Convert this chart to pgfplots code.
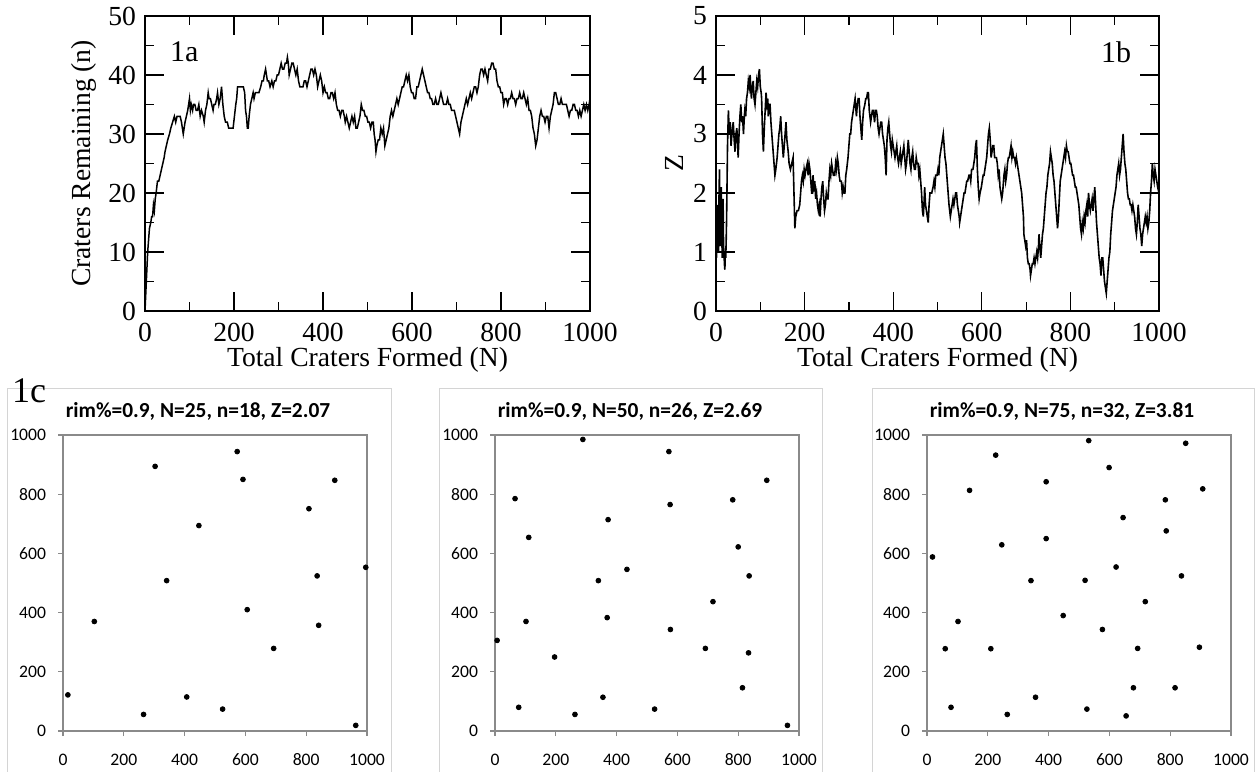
\documentclass[border=0pt]{standalone}
\usepackage{fontspec}
\setmainfont{Liberation Serif}
\newfontfamily\calibri{Carlito}
\usepackage{pgfplots}
\pgfplotsset{compat=1.18}
\definecolor{axgray}{HTML}{8A8A8A}
\definecolor{framegray}{HTML}{D4D4D4}

\pgfplotstableread{
x y
0 0
3 5
6 10
10 14
13 15
15 16
17 16
19 18
21 17
23 19
25 20
28 22
31 22
34 23
37 24
40 25
43 26
45 27
48 28
51 29
55 30
58 31
62 32
66 33
69 32
72 33
76 33
79 33
82 32
84 31
86 30
88 31
90 32
93 33
96 34
100 36
102 34
104 35
107 34
109 35
112 35
115 34
118 34
121 35
124 33
127 34
131 33
133 32
136 34
139 35
142 37
144 36
147 36
150 35
153 34
155 35
158 35
161 36
163 37
166 35
169 36
172 38
175 35
178 33
181 32
185 32
188 31
191 31
195 31
198 31
201 33
204 35
206 36
208 38
212 38
215 38
218 38
221 38
224 37
226 34
228 33
230 31
232 31
234 33
237 35
240 36
243 37
245 36
248 37
252 37
256 37
260 38
263 39
266 39
268 40
271 41
273 40
275 39
278 39
281 38
285 39
288 38
291 39
294 39
297 40
300 40
303 41
306 42
309 41
312 41
315 42
318 42
320 43
322 42
324 40
327 41
330 42
333 42
336 41
339 40
342 41
345 39
348 38
351 38
355 38
358 39
361 39
364 38
367 39
370 40
373 41
376 41
379 40
382 41
385 40
388 38
391 39
394 40
397 39
400 37
403 38
406 37
409 37
412 36
415 36
418 37
421 37
424 36
427 37
430 35
433 34
436 34
439 33
442 34
445 34
448 33
450 32
453 33
456 32
459 31
462 32
465 33
468 32
471 33
474 31
477 31
480 32
483 33
486 35
489 34
492 34
495 33
498 33
501 32
504 32
507 31
510 32
513 32
515 30
517 29
519 27
521 28
524 29
527 29
530 31
533 30
536 31
539 28
542 29
545 30
548 31
551 33
554 34
557 33
560 34
563 35
566 36
569 35
572 36
575 37
578 38
581 38
584 39
587 40
590 39
593 40
596 38
599 37
602 37
605 36
608 36
611 38
614 38
617 39
620 40
623 41
626 40
629 39
632 38
635 37
638 37
641 36
644 36
647 35
650 35
653 36
656 35
659 35
662 36
665 37
668 36
671 35
674 35
677 35
680 36
683 35
686 35
689 34
692 34
695 34
698 33
701 32
704 31
707 30
710 32
713 33
716 34
719 35
722 36
725 35
728 36
731 37
734 36
737 37
740 38
743 38
746 37
749 38
752 40
755 41
758 41
761 40
764 41
767 40
770 39
773 41
776 41
779 42
782 42
785 41
788 41
791 39
794 38
797 38
800 37
803 37
806 35
809 36
812 36
815 35
818 36
821 36
824 37
827 36
830 36
833 35
836 36
839 36
842 37
845 36
848 36
851 37
854 36
857 35
860 36
863 34
866 34
869 33
872 31
875 30
878 28
881 29
884 31
887 33
890 34
893 33
896 33
899 32
902 33
905 33
908 31
911 33
914 34
917 35
920 37
923 37
926 36
929 35
932 35
935 36
938 35
941 35
944 35
947 35
950 34
953 33
956 34
959 34
962 35
965 35
968 34
971 34
974 33
977 34
980 33
983 34
986 35
989 34
992 35
995 34
998 35
1000 36
}\craters

\pgfplotstableread{
x y
0 1.7
1 0.9
2 1.5
3 1.0
4 1.8
5 1.2
6 1.0
7 2.1
8 2.4
9 1.3
10 1.1
11 2.0
12 2.1
13 1.4
14 0.9
15 1.6
16 1.9
17 1.1
18 1.0
19 0.8
20 0.7
21 1.0
22 0.9
23 1.2
24 1.6
25 2.2
26 2.8
28 3.4
30 3.0
32 3.2
34 2.8
35 2.9
37 3.1
39 3.2
41 2.9
43 2.7
45 3.0
47 3.1
49 2.8
50 2.6
52 3.0
54 3.3
56 3.5
58 3.2
60 3.3
62 3.0
64 3.3
65 3.4
67 3.3
69 3.6
71 3.7
73 3.9
75 3.8
77 4.0
79 3.7
80 3.6
82 3.8
84 3.9
86 3.6
88 3.5
90 3.7
92 3.9
94 3.8
96 4.0
98 4.1
100 3.8
102 3.7
103 3.6
105 3.0
107 2.7
109 3.1
111 3.4
113 3.7
115 3.5
117 3.6
118 3.3
120 3.5
122 3.5
124 3.2
126 3.0
128 2.8
130 2.6
133 2.3
135 2.4
138 2.6
140 2.8
142 3.0
144 3.1
146 3.3
148 3.0
150 2.8
152 2.6
154 2.8
156 3.0
158 3.2
160 2.9
163 2.7
165 2.5
168 2.4
171 2.5
174 2.6
176 2.0
178 1.4
180 1.6
183 1.7
186 1.7
189 1.8
191 2.0
193 2.2
195 2.3
197 2.2
199 2.4
201 2.3
203 2.4
206 2.5
208 2.3
210 2.5
212 2.4
214 2.2
216 2.0
217 2.0
219 2.3
221 2.1
223 2.2
225 1.9
227 2.0
229 1.8
231 1.7
233 1.8
235 1.6
237 1.9
239 2.1
241 2.2
243 1.9
245 1.7
247 1.8
249 2.0
251 1.9
253 1.9
255 2.2
257 2.4
259 2.3
261 2.5
263 2.4
265 2.3
268 2.3
270 2.5
272 2.4
274 2.6
276 2.5
278 2.3
280 2.2
283 2.2
285 2.0
287 2.1
289 2.0
291 2.0
293 2.3
295 2.4
298 2.6
300 2.8
302 3.0
304 3.0
306 3.2
308 3.3
310 3.4
312 3.5
314 3.6
316 3.4
317 3.3
319 3.5
321 3.6
323 3.6
325 3.3
327 3.1
329 2.9
331 3.2
333 3.4
336 3.5
338 3.6
340 3.6
342 3.7
344 3.7
346 3.4
349 3.2
351 3.3
353 3.4
355 3.4
358 3.2
360 3.4
362 3.4
364 3.3
366 3.1
368 3.0
370 3.1
372 3.2
374 3.2
376 3.0
378 2.9
380 2.8
382 2.6
384 2.3
386 2.9
388 3.1
390 3.2
392 3.0
394 2.8
396 2.7
398 2.9
400 2.8
402 2.7
404 2.6
406 2.7
408 2.8
410 2.6
412 2.5
414 2.6
416 2.7
418 2.5
420 2.6
422 2.7
424 2.8
426 2.6
428 2.4
430 2.5
432 2.7
434 2.9
436 2.7
438 2.5
440 2.4
442 2.6
444 2.7
446 2.5
448 2.4
450 2.4
452 2.6
454 2.5
456 2.5
458 2.3
460 2.4
462 2.2
464 2.0
466 1.7
468 1.6
470 1.9
471 2.1
473 1.8
475 1.7
477 1.6
479 1.5
481 1.8
483 2.0
485 2.0
487 2.0
490 2.1
492 2.2
494 2.1
496 2.3
499 2.3
501 2.4
503 2.3
505 2.6
507 2.7
509 2.8
511 2.9
513 3.0
515 2.8
517 2.6
519 2.5
521 2.3
523 2.1
524 2.0
526 1.8
529 1.6
531 1.7
533 1.8
535 1.9
537 1.8
539 1.9
541 2.0
543 2.0
545 1.8
547 1.7
549 1.6
550 1.5
552 1.6
554 1.7
556 1.8
558 1.9
560 2.0
562 2.0
564 2.1
566 2.2
568 2.2
571 2.3
573 2.3
575 2.2
577 2.4
580 2.4
582 2.5
584 2.6
586 2.8
588 2.9
590 2.4
592 2.1
594 1.9
596 2.0
599 2.1
601 2.2
603 2.3
605 2.3
607 2.4
609 2.5
611 2.6
613 2.8
615 3.0
617 3.1
619 2.9
621 2.6
623 2.7
625 2.8
627 2.8
629 2.6
631 2.6
633 2.6
635 2.5
637 2.3
639 2.4
641 2.1
643 2.0
645 1.9
647 2.0
650 2.3
652 2.4
654 2.2
656 2.3
658 2.5
660 2.6
662 2.6
664 2.7
666 2.8
668 2.6
670 2.7
672 2.6
674 2.6
676 2.5
678 2.6
680 2.5
682 2.4
684 2.3
686 2.2
688 2.1
690 2.0
692 1.8
694 1.6
695 1.3
697 1.2
699 1.1
701 1.2
703 0.9
705 0.8
707 0.8
709 0.7
710 0.6
712 0.7
714 0.8
716 0.8
718 0.9
720 0.8
722 0.9
724 1.0
726 0.9
728 1.1
729 1.3
731 1.1
733 0.9
735 1.1
737 1.3
739 1.4
741 1.6
743 1.8
745 2.0
747 2.1
749 2.3
751 2.4
753 2.5
755 2.7
757 2.6
759 2.5
761 2.3
763 2.2
765 2.0
767 1.8
769 1.6
771 1.4
773 1.6
775 1.9
777 2.2
779 2.3
781 2.4
783 2.5
785 2.6
787 2.7
789 2.6
791 2.8
793 2.7
795 2.7
797 2.6
799 2.5
801 2.5
803 2.4
805 2.3
807 2.3
809 2.2
811 2.1
813 2.1
815 2.0
817 1.9
819 1.8
821 1.6
823 1.4
825 1.3
827 1.5
829 1.4
831 1.6
833 1.5
835 1.7
837 1.8
839 1.6
841 2.0
843 1.8
845 1.7
847 1.8
849 1.9
851 1.7
853 1.9
855 2.1
857 1.8
859 1.5
861 1.3
863 1.1
865 0.9
867 0.8
869 0.6
871 0.9
873 0.9
875 0.7
877 0.5
879 0.4
881 0.3
883 0.5
885 0.7
887 0.9
889 1.0
891 1.3
893 1.5
895 1.7
897 1.8
899 1.9
901 2.0
903 2.1
905 2.3
907 2.4
909 2.5
911 2.3
913 2.4
915 2.6
917 2.8
919 3.0
921 2.7
923 2.5
925 2.4
927 2.2
929 2.0
931 1.9
933 1.9
935 1.8
937 1.8
939 1.7
941 1.8
943 1.7
945 1.6
947 1.4
949 1.3
951 1.5
953 1.8
955 1.6
957 1.4
959 1.3
961 1.1
963 1.3
965 1.4
967 1.5
969 1.6
971 1.5
973 1.6
975 1.4
977 1.5
979 1.7
981 2.0
983 2.2
985 2.5
987 2.3
989 2.2
991 2.4
993 2.3
995 2.2
997 2.1
1000 2.0
}\zdata

\pgfplotstableread{
x y
16 122
103 370
265 56
303 894
341 508
407 115
447 694
525 74
573 944
592 850
606 410
693 279
809 751
836 524
841 357
894 847
963 19
996 553
}\scatA

\pgfplotstableread{
x y
7 306
66 785
78 80
102 370
111 654
196 250
263 56
289 985
340 508
355 114
369 383
372 714
434 546
525 74
572 944
576 765
577 343
692 279
717 437
782 781
800 622
814 146
834 264
836 524
894 847
962 19
}\scatB

\pgfplotstableread{
x y
18 588
60 278
79 80
102 370
140 813
210 278
226 932
246 629
264 56
342 508
357 114
392 650
392 842
448 390
520 509
526 74
532 981
577 343
599 890
622 554
645 721
655 51
679 146
693 279
718 437
784 781
787 676
816 146
837 524
851 972
896 283
907 818
}\scatC

\pgfplotsset{
  topax/.style={
    scale only axis, width=222.5pt, height=147.5pt,
    xmin=0, xmax=1000, xtick={0,200,...,1000}, minor x tick num=1,
    minor y tick num=1,
    tick align=inside, xtick pos=both, ytick pos=both,
    major tick length=9.5pt, minor tick length=4.5pt,
    every tick/.style={black, line width=0.6pt},
    axis line style={line width=0.8pt},
    ticklabel style={font=\fontsize{13.8}{15}\selectfont},
    xticklabel style={yshift=-2pt, text height=9.5pt, text depth=0pt},
    yticklabel style={xshift=-1pt},
    label style={font=\fontsize{13.8}{15}\selectfont},
    xlabel style={at={(axis description cs:0.5,-0.166)}, anchor=center},
    /pgf/number format/assume math mode=true,
    /pgf/number format/1000 sep={},
    xlabel={Total Craters Formed (N)},
  },
  scat/.style={
    scale only axis, width=152pt, height=148pt,
    xmin=0, xmax=1000, ymin=0, ymax=1000,
    xtick={0,200,...,1000}, ytick={0,200,...,1000},
    tick align=outside, xtick pos=bottom, ytick pos=left,
    major tick length=2.5pt,
    every tick/.style={axgray, line width=0.6pt},
    axis line style={axgray, line width=0.6pt},
    ticklabel style={font=\calibri\fontsize{8.8}{10}\selectfont},
    xticklabel style={yshift=-5pt, text height=6pt, text depth=0pt},
    yticklabel style={xshift=-2.5pt},
    /pgf/number format/assume math mode=true,
    /pgf/number format/1000 sep={},
    title style={font=\calibri\bfseries\fontsize{10.7}{12}\selectfont,
      at={(axis description cs:0.5,1)}, anchor=center, yshift=6pt, xshift=-8.5pt},
    clip=false,
  },
}

\begin{document}
\begin{tikzpicture}
\useasboundingbox (0pt,0pt) rectangle (627.5pt,386pt);
\fill[white] (0pt,0pt) rectangle (627.5pt,386pt);

% frames of the three lower charts
\draw[framegray, line width=0.5pt] (3.5pt,-5pt) -- (3.5pt,191.5pt) -- (195.5pt,191.5pt) -- (195.5pt,-5pt);
\draw[framegray, line width=0.5pt] (219.5pt,-5pt) -- (219.5pt,191.5pt) -- (411pt,191.5pt) -- (411pt,-5pt);
\draw[framegray, line width=0.5pt] (436pt,-5pt) -- (436pt,191.5pt) -- (627pt,191.5pt) -- (627pt,-5pt);

% 1a
\begin{axis}[topax, at={(72.5pt,230.5pt)}, anchor=south west,
  ymin=0, ymax=50, ytick={0,10,...,50},
  ylabel={Craters Remaining (n)},
  ylabel style={at={(axis description cs:-0.137,0.5)}, anchor=center},
]
\addplot[black, line width=0.75pt] table[x=x,y=y] {\craters};
\node[font=\fontsize{15}{17}\selectfont] at (axis description cs:0.088,0.878) {1a};
\end{axis}

% 1b
\begin{axis}[topax, at={(358pt,230.5pt)}, anchor=south west,
  width=221.5pt,
  ymin=0, ymax=5, ytick={0,1,...,5},
  ylabel={Z},
  ylabel style={at={(axis description cs:-0.093,0.5)}, anchor=center},
]
\addplot[black, line width=0.8pt] table[x=x,y=y] {\zdata};
\node[font=\fontsize{15}{17}\selectfont] at (axis description cs:0.903,0.878) {1b};
\end{axis}

% 1c
\node[font=\fontsize{18}{20}\selectfont] at (14.5pt,190.5pt) {1c};

\begin{axis}[scat, at={(31.5pt,20.5pt)}, anchor=south west,
  title={rim\%=0.9, N=25, n=18, Z=2.07}]
\addplot[only marks, mark=*, mark size=1.2pt, black] table[x=x,y=y] {\scatA};
\draw[axgray, line width=0.6pt] (rel axis cs:0,1) -- (rel axis cs:1,1) -- (rel axis cs:1,0);
\end{axis}

\begin{axis}[scat, at={(247.5pt,20.5pt)}, anchor=south west,
  title={rim\%=0.9, N=50, n=26, Z=2.69}]
\addplot[only marks, mark=*, mark size=1.2pt, black] table[x=x,y=y] {\scatB};
\draw[axgray, line width=0.6pt] (rel axis cs:0,1) -- (rel axis cs:1,1) -- (rel axis cs:1,0);
\end{axis}

\begin{axis}[scat, at={(463.5pt,20.5pt)}, anchor=south west,
  title={rim\%=0.9, N=75, n=32, Z=3.81}]
\addplot[only marks, mark=*, mark size=1.2pt, black] table[x=x,y=y] {\scatC};
\draw[axgray, line width=0.6pt] (rel axis cs:0,1) -- (rel axis cs:1,1) -- (rel axis cs:1,0);
\end{axis}
\end{tikzpicture}
\end{document}
